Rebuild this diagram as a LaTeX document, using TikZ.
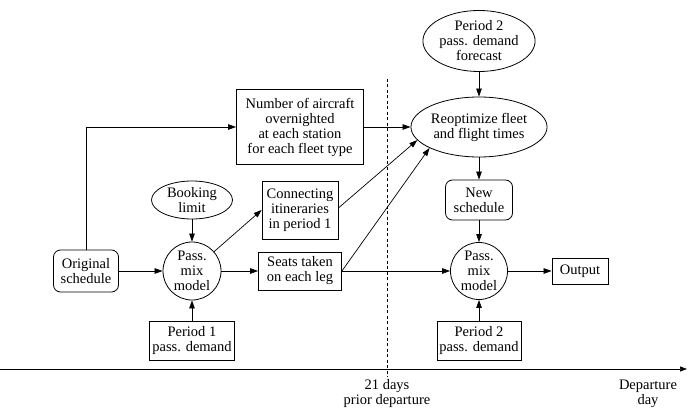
\documentclass[tikz,border=0pt]{standalone}
\usepackage{fontspec}
\setmainfont{Liberation Serif}
\usetikzlibrary{shapes.geometric,arrows.meta}
\begin{document}
\begin{tikzpicture}[x=1pt,y=-1pt,
  every node/.style={font=\fontsize{14.5}{15}\selectfont, align=center, inner sep=0pt},
  box/.style={draw, line width=0.8pt},
  rbox/.style={draw, line width=0.8pt, rounded corners=7pt},
  oval/.style={draw, line width=0.8pt, ellipse},
  circ/.style={draw, line width=0.8pt, circle, minimum size=58pt},
  flow/.style={line width=0.7pt, -{Triangle[length=8pt,width=5.5pt]}},
  plain/.style={line width=0.7pt}]
\useasboundingbox (0,0) rectangle (687,414);

% process nodes, period 1
\node[rbox, minimum width=65pt, minimum height=42pt] (orig) at (86,271) {Original\\schedule};
\node[circ] (pm1) at (192,271) {Pass.\\mix\\model};
\node[oval, minimum width=81pt, minimum height=38pt] (book) at (192,200) {Booking\\limit};
\node[box, minimum width=85pt, minimum height=39pt] (dem1) at (192,341) {Period 1\\pass. demand};
\node[box, minimum width=76pt, minimum height=58pt] (conn) at (300,210) {Connecting\\itineraries\\in period 1};
\node[box, minimum width=83pt, minimum height=38pt] (seats) at (300,271) {Seats taken\\on each leg};
\node[box, minimum width=127pt, minimum height=75pt] (num) at (300,127) {Number of aircraft\\overnighted\\at each station\\for each fleet type};

% process nodes, period 2
\node[oval, minimum width=85pt, minimum height=61pt] (fore) at (479,41) {Period 2\\pass. demand\\forecast};
\node[oval, minimum width=128pt, minimum height=60pt] (reopt) at (479,127) {Reoptimize fleet\\and flight times};
\node[rbox, minimum width=67pt, minimum height=40pt] (news) at (479,200) {New\\schedule};
\node[circ, minimum size=57pt] (pm2) at (479,271) {Pass.\\mix\\model};
\node[box, minimum width=56pt, minimum height=26pt] (out) at (580,271) {Output};
\node[box, minimum width=84pt, minimum height=39pt] (dem2) at (479,341) {Period 2\\pass. demand};

% time axis and the 21-day mark
\coordinate (ax0) at (0,369);
\coordinate (ax1) at (687,369);
\draw[line width=0.7pt, -{Triangle[length=7pt,width=5pt]}] (ax0) -- (ax1);
\coordinate (d0) at (387,79);
\coordinate (d1) at (387,377);
\draw[line width=0.6pt, dash pattern=on 3pt off 2.5pt] (d0) -- (d1);
\node (t21) at (387,394) {21 days\\prior departure};
\node (tdep) at (648,394) {Departure\\day};

% connectors
\coordinate (up) at (orig.north |- num.west);
\draw[plain] (orig.north) -- (up);
\draw[flow] (up) -- (num.west);
\draw[flow] (orig) -- (pm1);
\draw[flow] (book) -- (pm1);
\draw[flow] (dem1) -- (pm1);
\draw[flow] (pm1) -- (conn.west);
\draw[flow] (pm1) -- (seats);
\draw[flow] (num.east) -- (reopt.west);
\coordinate (ce) at (conn.east |- 0,208);
\draw[flow] (ce) -- (reopt.192);
\draw[flow] (seats.east) -- (reopt.203);
\draw[flow] (fore) -- (reopt);
\draw[flow] (reopt) -- (news);
\draw[flow] (news) -- (pm2);
\draw[flow] (seats.east) -- (pm2);
\draw[flow] (dem2) -- (pm2);
\draw[flow] (pm2) -- (out);
\end{tikzpicture}
\end{document}
